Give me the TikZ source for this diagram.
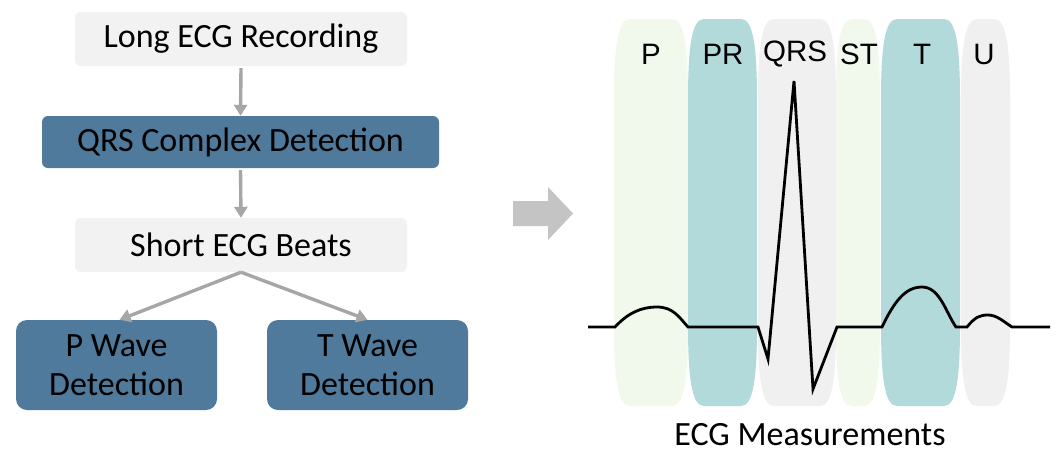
\documentclass[tikz,border=0pt]{standalone}
\usepackage{fontspec}
\setmainfont{Carlito}
\newfontfamily\bandfont{Liberation Sans}
\usetikzlibrary{arrows.meta}
\definecolor{boxlight}{HTML}{F2F2F2}
\definecolor{boxdark}{HTML}{507A9B}
\definecolor{flowgray}{HTML}{A6A6A6}
\definecolor{bigarrow}{HTML}{C4C4C4}
\definecolor{bandgreen}{HTML}{F1F8EC}
\definecolor{bandteal}{HTML}{B3DADB}
\definecolor{bandgray}{HTML}{F0F0F0}
\tikzset{
  stepbox/.style={rounded corners=6pt, minimum width=#1, inner sep=0pt, align=center,
    font=\fontsize{34}{41}\selectfont},
  lightbox/.style={stepbox=#1, fill=boxlight, minimum height=54pt},
  darkbox/.style={stepbox=#1, fill=boxdark, minimum height=52pt},
  bigbox/.style={stepbox=201pt, fill=boxdark, rounded corners=11pt, minimum height=90pt},
  flow/.style={draw=flowgray, line width=3.4pt, -{Triangle[width=13pt,length=11pt]}},
  bandlabel/.style={font=\bandfont\fontsize{29.5}{31}\selectfont, inner sep=0pt},
  ecg/.style={line width=2.8pt, line join=miter, line cap=butt},
}
% one band of the measurement chart: left x, right x
\newcommand{\ecgband}[3]{%
  \fill[#3] (#1,100) .. controls (#1,45) and (#1+4,19) .. (#1+16,19)
    -- (#2-16,19) .. controls (#2-4,19) and (#2,45) .. (#2,100)
    -- (#2,325) .. controls (#2,380) and (#2-4,406) .. (#2-16,406)
    -- (#1+16,406) .. controls (#1+4,406) and (#1,380) .. (#1,325) -- cycle;}
\begin{document}
\begin{tikzpicture}[x=1pt,y=-1pt]
\useasboundingbox (0,0) rectangle (1059,453);
\fill[white] (0,0) rectangle (1059,453);

% flowchart
\node[lightbox=332pt] (rec) at (241,39) {Long ECG Recording};
\node[darkbox=397pt] (qrs) at (240.5,142) {QRS Complex Detection};
\node[lightbox=332pt] (beats) at (241,245) {Short ECG Beats};
\node[bigbox] (pw) at (116.5,365) {P Wave\\[-2pt]Detection};
\node[bigbox] (tw) at (367.5,365) {T Wave\\[-2pt]Detection};

\draw[flow] ([yshift=-2pt]rec.south) -- (qrs.north);
\draw[flow] ([yshift=-2pt]qrs.south) -- (beats.north);
\draw[flow] (beats.south) -- ([xshift=3pt]pw.north);
\draw[flow] (beats.south) -- (tw.north);

% block arrow between the halves
\fill[bigarrow] (513,201) -- (548,201) -- (548,187) -- (573,213.5)
  -- (548,240) -- (548,226) -- (513,226) -- cycle;

% measurement bands
\ecgband{614}{688}{bandgreen}
\ecgband{688}{757}{bandteal}
\ecgband{758}{836}{bandgray}
\ecgband{836}{880}{bandgreen}
\ecgband{881}{960}{bandteal}
\ecgband{961}{1010}{bandgray}

\node[bandlabel] (lp) at (651,54) {P};
\node[bandlabel] (lpr) at (723,54) {PR};
\node[bandlabel] (lqrs) at (795,54) {QRS};
\node[bandlabel] (lst) at (859,54) {ST};
\node[bandlabel] (lt) at (922,54) {T};
\node[bandlabel] (lu) at (984,54) {U};

% ECG trace
\draw[ecg] (588,327) -- (615,327)
  .. controls (628,313) and (641,307) .. (657,307)
  .. controls (673,307) and (679,317) .. (688,327)
  -- (758,327) -- (768,359) -- (794,81) -- (813,389) -- (837,327)
  -- (882,327)
  .. controls (894,302) and (905,287) .. (922,287)
  .. controls (940,287) and (946,313) .. (956,327)
  -- (967,327)
  .. controls (975,317) and (980,315) .. (988,315)
  .. controls (997,315) and (1004,322) .. (1012,327)
  -- (1050,327);

\node[font=\fontsize{34}{41}\selectfont, inner sep=0pt, anchor=base] (meas) at (810,445) {ECG Measurements};
\end{tikzpicture}
\end{document}
